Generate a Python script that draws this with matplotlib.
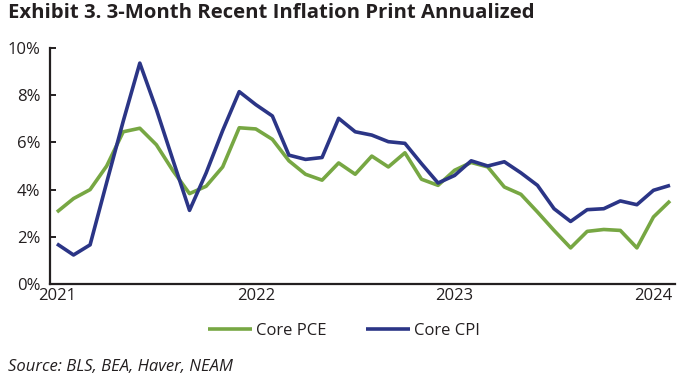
import matplotlib.pyplot as plt
import numpy as np

# monthly, Jan 2021 .. Feb 2024
core_pce = [3.05, 3.62, 4.0, 5.0, 6.45, 6.6, 5.9, 4.8, 3.83, 4.14, 4.96, 6.62,
            6.57, 6.13, 5.22, 4.65, 4.4, 5.13, 4.65, 5.42, 4.96, 5.56, 4.44, 4.18,
            4.82, 5.15, 4.96, 4.11, 3.8, 3.05, 2.27, 1.53, 2.23, 2.31, 2.27, 1.53,
            2.84, 3.52]
core_cpi = [1.7, 1.23, 1.66, 4.3, 6.9, 9.36, 7.4, 5.25, 3.12, 4.7, 6.5, 8.15,
            7.6, 7.12, 5.46, 5.28, 5.36, 7.02, 6.45, 6.31, 6.03, 5.96, 5.1, 4.28,
            4.6, 5.22, 5.0, 5.18, 4.71, 4.18, 3.19, 2.65, 3.15, 3.19, 3.52, 3.36,
            3.97, 4.18]
year_labels = ["2021", "2022", "2023", "2024"]
y_ticks = [0, 2, 4, 6, 8, 10]

plt.rcParams['font.family'] = ['Open Sans', 'DejaVu Sans']

green = '#77a743'
navy = '#2b3586'
ink = '#231f20'

fig = plt.figure(figsize=(6.96, 3.81), dpi=100)
ax = fig.add_axes([50/696, 1-284/381, 625/696, 236/381])

months = np.arange(len(core_pce))
ax.plot(months, core_pce, color=green, lw=2.6, label='Core PCE', solid_capstyle='butt')
ax.plot(months, core_cpi, color=navy, lw=2.6, label='Core CPI', solid_capstyle='butt')

ax.set_xlim(-0.42, 37.3)
ax.set_ylim(0, 10)
ax.set_yticks(y_ticks)
ax.set_yticklabels([f"{v}%" for v in y_ticks])
ax.set_xticks([0, 12, 24, 36])
ax.set_xticklabels(year_labels)

for s in ['top', 'right']:
    ax.spines[s].set_visible(False)
for s in ['left', 'bottom']:
    ax.spines[s].set_linewidth(1.6)
    ax.spines[s].set_color(ink)

ax.tick_params(axis='y', direction='in', length=4, width=1.4, color=ink,
               labelsize=12, labelcolor=ink, pad=7)
ax.tick_params(axis='x', length=0, labelsize=12, labelcolor=ink, pad=3)

fig.text(8/696, 1-3/381, "Exhibit 3. 3-Month Recent Inflation Print Annualized",
         fontsize=14.6, fontweight='bold', color=ink, va='top', ha='left')

fig.legend(loc='center', bbox_to_anchor=(344/696, 1-331/381), ncol=2, frameon=False,
           fontsize=12, handlelength=2.6, handletextpad=0.25, columnspacing=2.4,
           labelcolor=ink)

fig.text(8/696, 1-367/381, "Source: BLS, BEA, Haver, NEAM", fontsize=12,
         fontstyle='italic', color=ink, va='center', ha='left')

fig.savefig('out.png', dpi=100)
